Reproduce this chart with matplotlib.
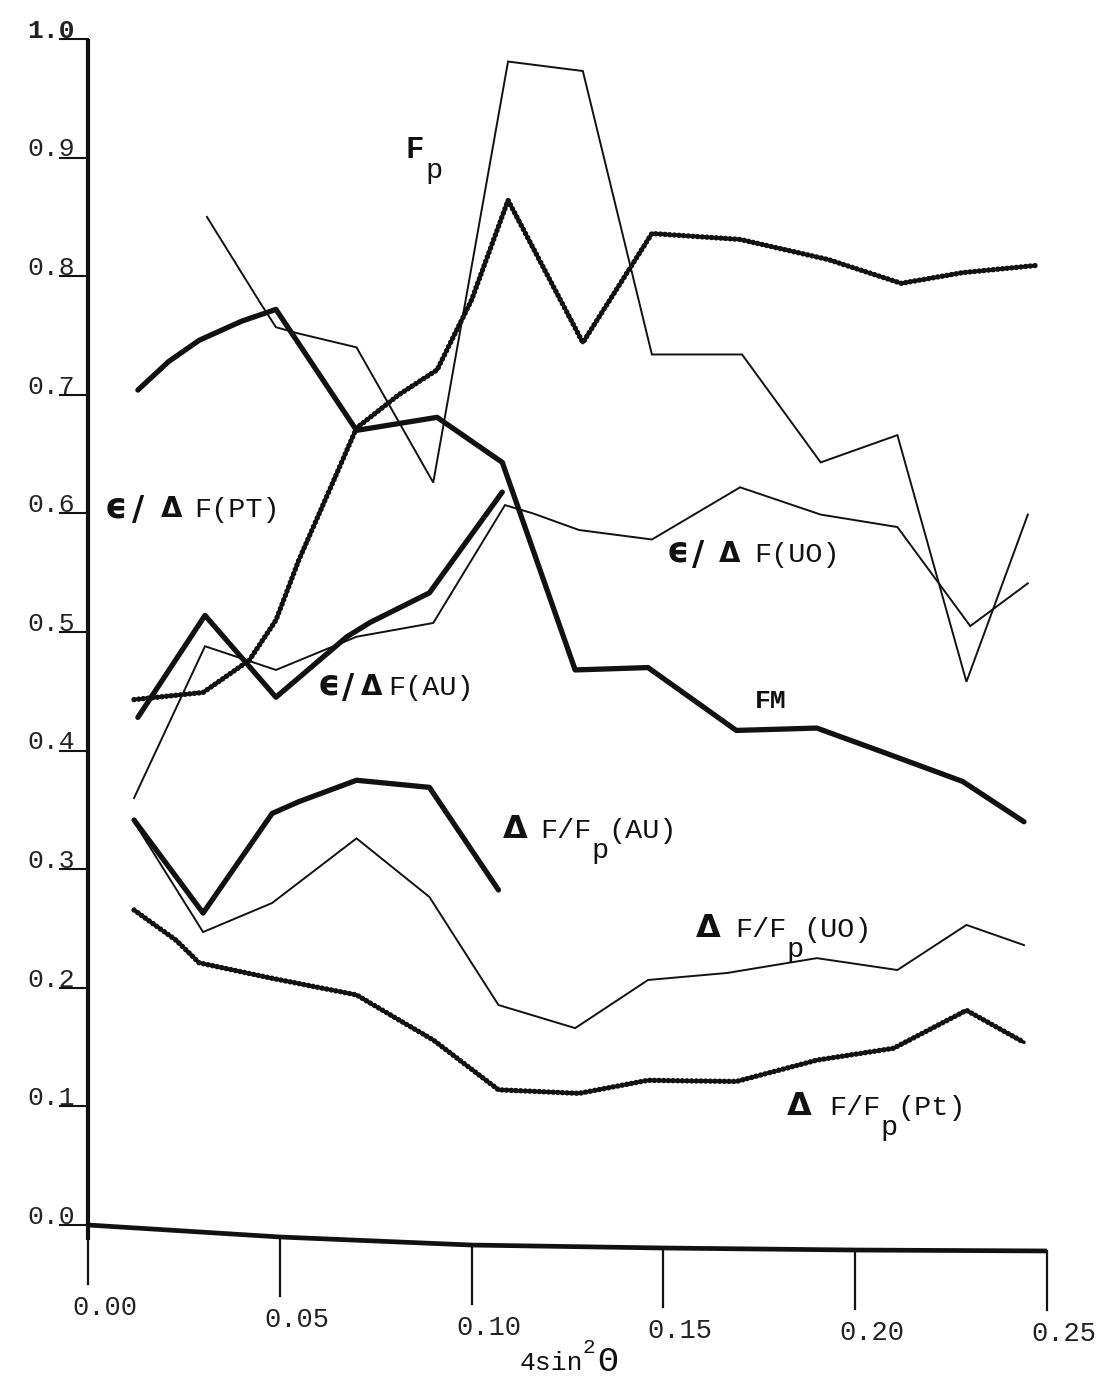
import matplotlib
matplotlib.use('Agg')
import matplotlib.pyplot as plt
import numpy as np

plt.rcParams['mathtext.fontset'] = 'custom'
plt.rcParams['mathtext.rm'] = 'Liberation Mono'

# ---------------- data ----------------
x_ticks = [0.00, 0.05, 0.10, 0.15, 0.20, 0.25]
x_ticklabels = ["0.00", "0.05", "0.10", "0.15", "0.20", "0.25"]
y_ticks = [0.0, 0.1, 0.2, 0.3, 0.4, 0.5, 0.6, 0.7, 0.8, 0.9, 1.0]
y_ticklabels = ["0.0", "0.1", "0.2", "0.3", "0.4", "0.5", "0.6", "0.7", "0.8", "0.9", "1.0"]

# FM (thick solid)
fm_x = [0.013, 0.021, 0.029, 0.040, 0.049, 0.070, 0.091, 0.108, 0.127, 0.146, 0.169, 0.190, 0.207, 0.228, 0.244]
fm_y = [0.704, 0.728, 0.746, 0.762, 0.772, 0.670, 0.681, 0.643, 0.468, 0.470, 0.417, 0.419, 0.399, 0.374, 0.340]

# eps/dF(PT) (beaded)
pt_x = [0.012, 0.030, 0.042, 0.049, 0.055, 0.063, 0.070, 0.081, 0.091, 0.100, 0.1095, 0.129, 0.147, 0.170, 0.193, 0.212, 0.228, 0.247]
pt_y = [0.443, 0.449, 0.476, 0.510, 0.561, 0.620, 0.672, 0.700, 0.721, 0.780, 0.864, 0.744, 0.836, 0.831, 0.814, 0.794, 0.803, 0.809]

# Fp (thin)
fp_x = [0.031, 0.045, 0.049, 0.0545, 0.070, 0.090, 0.1095, 0.129, 0.147, 0.1705, 0.191, 0.211, 0.229, 0.245]
fp_y = [0.850, 0.777, 0.757, 0.752, 0.740, 0.626, 0.981, 0.973, 0.734, 0.734, 0.643, 0.666, 0.458, 0.599]

# eps/dF(UO) (thin)
uo_x = [0.012, 0.0305, 0.049, 0.070, 0.090, 0.1087, 0.116, 0.128, 0.147, 0.170, 0.191, 0.211, 0.230, 0.245]
uo_y = [0.360, 0.488, 0.468, 0.496, 0.5076, 0.607, 0.600, 0.586, 0.578, 0.622, 0.599, 0.5885, 0.505, 0.541]

# eps/dF(AU) (thick solid)
au_x = [0.013, 0.0305, 0.049, 0.0675, 0.0735, 0.089, 0.108]
au_y = [0.428, 0.514, 0.445, 0.496, 0.508, 0.533, 0.618]

# dF/Fp(AU) (thick solid)
dau_x = [0.012, 0.030, 0.048, 0.055, 0.070, 0.089, 0.107]
dau_y = [0.3415, 0.263, 0.347, 0.357, 0.375, 0.369, 0.2825]

# dF/Fp(UO) (thin)
duo_x = [0.012, 0.030, 0.048, 0.070, 0.089, 0.107, 0.127, 0.146, 0.1666, 0.190, 0.211, 0.229, 0.244]
duo_y = [0.340, 0.247, 0.2715, 0.326, 0.2766, 0.1855, 0.166, 0.2066, 0.2125, 0.225, 0.215, 0.253, 0.236]

# dF/Fp(Pt) (beaded)
dpt_x = [0.012, 0.023, 0.029, 0.048, 0.070, 0.081, 0.090, 0.107, 0.128, 0.146, 0.169, 0.190, 0.210, 0.229, 0.244]
dpt_y = [0.2656, 0.240, 0.221, 0.208, 0.194, 0.173, 0.156, 0.114, 0.111, 0.122, 0.121, 0.139, 0.149, 0.181, 0.154]

# ---------------- figure ----------------
W, H = 1107, 1376
fig = plt.figure(figsize=(W / 100, H / 100), dpi=100)
fig.patch.set_facecolor('white')
ax = fig.add_axes([88 / W, (H - 1225) / H, (1047 - 88) / W, (1225 - 39) / H])
ax.set_xlim(0, 0.25)
ax.set_ylim(0, 1.0)
ax.axis('off')

INK = '#111111'
MONO = 'Liberation Mono'
SANS = 'DejaVu Sans'

# sagging bottom axis of the scanned drawing (axis decoration, not data)
axis_sag = [0.0, -0.0101, -0.0169, -0.0194, -0.0211, -0.0219]
ax.plot(x_ticks, axis_sag, color=INK, lw=3.4, solid_capstyle='butt', clip_on=False)
for xv, s, lab in zip(x_ticks, axis_sag, x_ticklabels):
    ax.plot([xv, xv], [s, s - 0.050], color=INK, lw=1.6, clip_on=False)
    ax.text(xv + 0.0044, s - 0.076, lab, fontsize=19.5, family=MONO, color='#222222',
            ha='center', va='baseline')

# left axis
ax.plot([0, 0], [-0.013, 1.0], color=INK, lw=3.0, solid_capstyle='butt', clip_on=False)
for yv, lab in zip(y_ticks, y_ticklabels):
    ax.plot([-0.0073, 0], [yv, yv], color=INK, lw=1.5, clip_on=False)
    ax.text(-0.0033, yv + 0.001, lab, fontsize=19, family=MONO, color='#222222',
            ha='right', va='baseline', weight='bold' if lab == "1.0" else 'normal')


def thick(x, y):
    ax.plot(x, y, color=INK, lw=3.8, solid_joinstyle='round', solid_capstyle='round', clip_on=False)


def thin(x, y):
    ax.plot(x, y, color=INK, lw=1.4, solid_joinstyle='miter', clip_on=False)


def beaded(x, y):
    ax.plot(x, y, color=INK, lw=2.6, solid_joinstyle='round', solid_capstyle='round', clip_on=False)
    ax.plot(x, y, color=INK, lw=3.9, ls=(0, (0.01, 0.85)), dash_capstyle='round', clip_on=False)


thin(fp_x, fp_y)
thin(uo_x, uo_y)
thin(duo_x, duo_y)
thick(fm_x, fm_y)
thick(au_x, au_y)
thick(dau_x, dau_y)
beaded(pt_x, pt_y)
beaded(dpt_x, dpt_y)


# ---------------- labels (pixel placement) ----------------
def ptxt(px, py, s, fs, fam=MONO, weight='normal'):
    fig.text(px / W, 1 - py / H, s, fontsize=fs, family=fam, weight=weight,
             color=INK, ha='left', va='baseline')


LFS = 20.5
CW = 0.6 * LFS * 100 / 72  # monospace advance in px

# F_p
ptxt(406, 158, "F", 22, weight='bold')
ptxt(406 + CW + 2, 178, "p", LFS)


def eps_label(ex, sx, dx, fx, base, tail):
    ptxt(ex, base, "\u03f5", 25, fam=SANS, weight='bold')
    ptxt(sx, base + 3, "/", 24, fam=SANS, weight='bold')
    ptxt(dx, base, "\u0394", 20, fam=SANS, weight='bold')
    ptxt(fx, base, tail, LFS)


eps_label(105, 132, 161, 194, 517, "F(PT)")
eps_label(318, 342, 361, 388, 695, "F(AU)")
eps_label(667, 692, 719, 754, 562, "F(UO)")

ptxt(755, 708, "FM", 19, weight='bold')


def dfp_label(dx, fx, base, tag):
    ptxt(dx, base, "\u0394", 23, fam=SANS, weight='bold')
    ptxt(fx, base, "F/F", LFS)
    ptxt(fx + 3 * CW, base + 20, "p", LFS)
    ptxt(fx + 4 * CW, base, "(" + tag + ")", LFS)


dfp_label(503, 540, 838, "AU")
dfp_label(696, 735, 937, "UO")
dfp_label(787, 829, 1115, "Pt")

# x-axis title
ptxt(520, 1370, "4sin", 19)
ptxt(583, 1353, "2", 15)
ptxt(597, 1371, "\u0398", 25, fam=MONO)

fig.savefig('out.png', dpi=100, facecolor='white')
